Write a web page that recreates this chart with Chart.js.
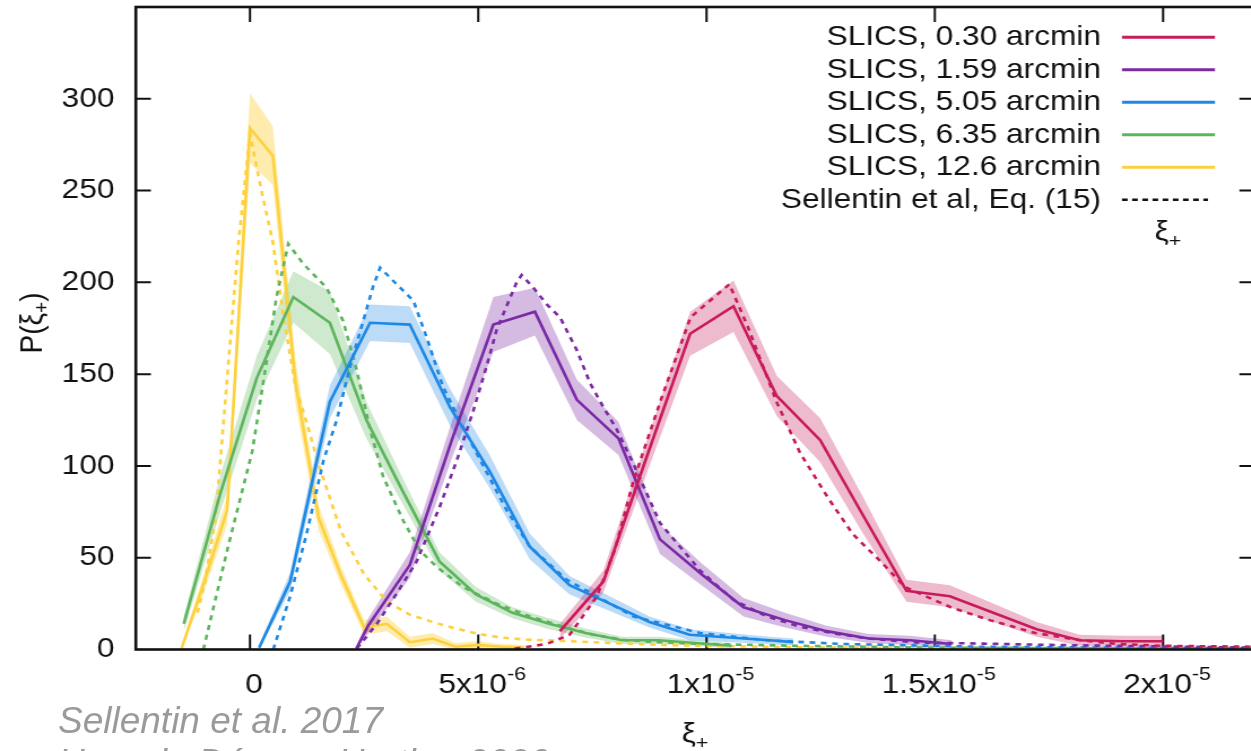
<!DOCTYPE html>
<html>
<head>
<meta charset="utf-8">
<script src="https://cdn.jsdelivr.net/npm/chart.js@4.4.1/dist/chart.umd.min.js"></script>
<style>
  html, body { margin: 0; padding: 0; background: #fff; overflow: hidden; }
  #page { position: relative; width: 1251px; height: 751px; overflow: hidden; }
  /* gnuplot output was stretched sideways; draw narrow and widen */
  #stretch { position: absolute; left: 0; top: 0; width: 1113px; height: 751px;
             transform: scaleX(1.13); transform-origin: 0 0; }
  .note { position: absolute; left: 58px; font: italic 37px "Liberation Sans", Arial, sans-serif;
          color: #9a9a9a; line-height: 37px; white-space: nowrap; }
</style>
</head>
<body>
<div id="page">
  <div id="stretch"><canvas id="plot" width="1113" height="751"></canvas></div>
  <div class="note" style="top:702px">Sellentin et al. 2017</div>
  <div class="note" style="top:744px">Harnois-Déraps, Hartlap 2020</div>
</div>
<script>
// x values are xi_+ in units of 1e-6, y is P(xi_+)
const xTickValues = [0, 5, 10, 15, 20];
const xTickBase = ['0', '5x10', '1x10', '1.5x10', '2x10'];
const xTickExp = ['', '-6', '-5', '-5', '-5'];
const yTickValues = [0, 50, 100, 150, 200, 250, 300];

const seriesNames = ['SLICS, 0.30 arcmin', 'SLICS, 1.59 arcmin', 'SLICS, 5.05 arcmin',
                     'SLICS, 6.35 arcmin', 'SLICS, 12.6 arcmin'];
const theoryName = 'Sellentin et al, Eq. (15)';

// SLICS 0.30 arcmin
const x030 = [6.79, 7.74, 8.69, 9.64, 10.59, 11.54, 12.49, 13.43, 14.38, 15.33, 16.28, 17.23, 18.17, 19.12, 20.0];
const mean030 = [10, 37, 105, 172, 187, 138, 114, 73, 32, 29, 20, 11, 5, 4.5, 4.5];
const err030 = [4, 6, 9, 12, 14, 11, 12, 10, 6, 6, 5, 4, 3, 3, 3];
const thX030 = [5.8, 6.5, 7.0, 7.6, 8.0, 8.4, 9.0, 9.65, 10.5, 10.9, 11.55, 12.05, 12.65, 13.2, 13.85, 14.35, 15.35, 16.2, 17.2, 18.2, 19.0, 20.0, 22.0];
const thY030 = [0.5, 3, 8, 29, 55, 92, 136, 181, 199, 176, 134, 107, 83, 63, 47, 34, 23, 16, 9, 5, 3, 2, 1.5];

// SLICS 1.59 arcmin
const x159 = [2.33, 2.59, 3.5, 4.42, 5.33, 6.24, 7.16, 8.07, 8.98, 9.89, 10.81, 11.72, 12.63, 13.55, 14.46, 15.37];
const mean159 = [0.5, 13, 46, 114, 177, 184, 136, 115, 60, 41, 23, 16, 10, 6, 5, 3];
const err159 = [1, 4, 7, 10, 15, 13, 11, 9, 8, 6, 5, 4, 3, 2.5, 2.5, 2];
const thX159 = [2.34, 2.78, 3.2, 3.65, 4.16, 4.53, 4.89, 5.18, 5.4, 5.84, 5.95, 6.21, 6.5, 6.79, 7.16, 7.45, 7.74, 8.03, 8.4, 8.69, 8.98, 9.35, 9.86, 10.59, 11.32, 12.05, 12.78, 13.51, 14.6, 16.06, 17.52, 20.44, 22.0];
const thY159 = [0.5, 14, 30, 48, 78, 103, 130, 154, 174, 200, 204, 197, 188, 181, 163, 145, 132, 120, 101, 85, 69, 58, 43, 27, 18, 12.4, 8.8, 6.1, 3.8, 3.2, 2.5, 1.5, 1];

// SLICS 5.05 arcmin
const x505 = [0.2, 0.88, 1.75, 2.63, 3.5, 4.38, 5.25, 6.13, 7.0, 7.88, 8.75, 9.63, 10.5, 11.38, 11.9];
const mean505 = [1, 37, 135, 178, 177, 132, 97, 56, 35, 25, 15, 8, 6.5, 5, 4];
const err505 = [1.5, 5, 9, 10, 10, 10, 9, 7, 5, 4, 3, 3, 2.5, 2, 2];
const thX505 = [0.51, 0.88, 1.24, 1.61, 1.9, 2.19, 2.48, 2.7, 2.85, 3.21, 3.58, 3.87, 4.23, 4.67, 5.11, 5.62, 6.13, 6.94, 8.4, 9.86, 11.32, 13.0, 16.0, 22.0];
const thY505 = [0, 29, 63, 103, 125, 154, 179, 198, 208, 199, 190, 170, 143, 121, 100, 76, 56, 38, 18, 9, 5, 3, 1.5, 0.5];

// SLICS 6.35 arcmin
const x635 = [-1.45, -0.65, 0.15, 0.95, 1.75, 2.55, 3.35, 4.15, 4.95, 5.75, 6.55, 7.35, 8.15, 8.95, 9.75, 10.55];
const mean635 = [14, 85, 148, 192, 178, 125, 86, 48, 30, 20, 14, 9, 5, 5, 3.5, 2];
const err635 = [4, 10, 12, 14, 17, 10, 7, 5, 4, 3, 3, 2.5, 2, 2, 1.5, 1.5];
const thX635 = [-1.02, -0.76, -0.44, 0.05, 0.3, 0.58, 0.84, 1.17, 1.68, 2.04, 2.34, 2.63, 2.92, 3.36, 3.72, 4.09, 4.67, 5.4, 6.13, 6.79, 7.52, 8.25, 8.98, 10.0, 12.0, 15.0, 22.0];
const thY635 = [0, 27, 60, 108, 147, 192, 221, 210, 197, 179, 152, 120, 94, 70, 54, 45, 34, 25, 18, 13, 8, 5, 4, 3, 2, 1, 0.5];

// SLICS 12.6 arcmin
const x126 = [-1.5, -1.0, -0.5, 0, 0.5, 1.0, 1.5, 2.0, 2.5, 3.0, 3.5, 4.0, 4.5, 5.0, 5.5, 6.0];
const mean126 = [0.5, 37, 76, 284, 269, 145, 72, 40, 12, 14, 4, 6, 1.5, 2.5, 1.5, 1];
const err126 = [1, 5, 8, 19, 16, 12, 7, 5, 4, 4, 3, 3, 2, 2, 1.5, 1.5];
const thX126 = [-1.15, -1.0, -0.75, -0.5, -0.25, 0, 0.25, 0.5, 0.75, 1.0, 1.25, 1.5, 2.0, 2.5, 3.0, 3.5, 4.0, 4.5, 5.0, 5.5, 6.0, 7.0, 8.0, 9.0, 10.0, 12.0, 15.0, 22.0];
const thY126 = [20, 35, 72, 148, 222, 281, 250, 222, 179, 143, 123, 101, 64, 41, 26, 19, 15, 11.5, 8.5, 6.5, 5.5, 4.5, 3.5, 2.5, 2, 1.2, 0.8, 0.5];

const lineColors = ['#c81b5b', '#7b2aa6', '#1e88e5', '#5cb55c', '#fdd13e'];
const bandColors = ['rgba(200,27,91,0.3)', 'rgba(123,42,166,0.32)', 'rgba(30,136,229,0.3)',
                    'rgba(92,181,92,0.3)', 'rgba(253,209,62,0.42)'];

const series = [
  [x030, mean030, err030, thX030, thY030],
  [x159, mean159, err159, thX159, thY159],
  [x505, mean505, err505, thX505, thY505],
  [x635, mean635, err635, thX635, thY635],
  [x126, mean126, err126, thX126, thY126]
];

const pts = (xs, ys) => xs.map((x, i) => ({ x: x, y: ys[i] }));

const datasets = [];
series.forEach(([xs, ys, err], i) => {
  datasets.push({ data: pts(xs, ys.map((v, j) => v + err[j])),
    borderColor: 'transparent', borderWidth: 0, pointRadius: 0, fill: false });
  datasets.push({ data: pts(xs, ys.map((v, j) => Math.max(0, v - err[j]))),
    borderColor: 'transparent', borderWidth: 0, pointRadius: 0, fill: '-1', backgroundColor: bandColors[i] });
});
series.forEach(([xs, ys, err, tx, ty], i) => {
  datasets.push({ data: pts(xs, ys), borderColor: lineColors[i], borderWidth: 2.6, pointRadius: 0, fill: false });
  datasets.push({ data: pts(tx, ty), borderColor: lineColors[i], borderWidth: 2.6,
    borderDash: [5, 5], pointRadius: 0, fill: false });
});

const ink = '#111';
const font = (px, style) => (style || '') + ' ' + px + 'px "Liberation Sans", Arial, sans-serif';

// draws text followed by a raised (dy<0) or lowered (dy>0) small part
function textWithIndex(ctx, x, y, main, small, dy, align) {
  ctx.font = font(28);
  const w1 = ctx.measureText(main).width;
  ctx.font = font(19);
  const w2 = ctx.measureText(small).width;
  let x0 = x;
  if (align === 'center') x0 = x - (w1 + w2) / 2;
  ctx.textAlign = 'left';
  ctx.font = font(28);
  ctx.fillText(main, x0, y);
  ctx.font = font(19);
  ctx.fillText(small, x0 + w1, y + dy);
}

const gnuplotFrame = {
  id: 'gnuplotFrame',
  beforeDatasetsDraw(chart) {
    const { ctx, chartArea: a, scales: { x, y } } = chart;
    ctx.save();
    ctx.strokeStyle = ink;
    ctx.lineWidth = 2;
    ctx.beginPath();
    x.ticks.forEach(t => {
      const px = x.getPixelForValue(t.value);
      ctx.moveTo(px, a.bottom); ctx.lineTo(px, a.bottom - 15);
      ctx.moveTo(px, a.top); ctx.lineTo(px, a.top + 15);
    });
    y.ticks.forEach(t => {
      if (t.value <= 0) return;
      const py = y.getPixelForValue(t.value);
      ctx.moveTo(a.left, py); ctx.lineTo(a.left + 13.3, py);
      ctx.moveTo(a.right, py); ctx.lineTo(a.right - 13.3, py);
    });
    ctx.stroke();
    ctx.restore();
  },
  afterDatasetsDraw(chart) {
    const { ctx, chartArea: a } = chart;
    ctx.save();
    ctx.strokeStyle = ink;
    ctx.lineWidth = 2.6;
    ctx.strokeRect(a.left, a.top, a.right - a.left, a.bottom - a.top);
    ctx.restore();
  },
  afterDraw(chart) {
    const { ctx, chartArea: a, scales: { x, y } } = chart;
    ctx.save();
    ctx.fillStyle = ink;

    // y tick labels
    ctx.font = font(28);
    ctx.textAlign = 'right';
    ctx.textBaseline = 'middle';
    y.ticks.forEach(t => ctx.fillText(String(t.value), 101.3, y.getPixelForValue(t.value)));

    // x tick labels with exponent
    ctx.textBaseline = 'alphabetic';
    x.ticks.forEach((t, i) => {
      textWithIndex(ctx, x.getPixelForValue(t.value) + 3.5, 693, xTickBase[i], xTickExp[i], -13, 'center');
    });

    // axis titles
    const cx = (a.left + a.right) / 2;
    textWithIndex(ctx, cx, 742, '\u03BE', '+', 7, 'center');
    textWithIndex(ctx, 1033.6, 240, '\u03BE', '+', 7, 'center');

    ctx.save();
    ctx.translate(36.9, 323);
    ctx.rotate(-Math.PI / 2);
    ctx.font = font(28);
    const wA = ctx.measureText('P(\u03BE').width;
    const wC = ctx.measureText(')').width;
    ctx.font = font(19);
    const wB = ctx.measureText('+').width;
    let sx = -(wA + wB + wC) / 2;
    ctx.font = font(28);
    ctx.fillText('P(\u03BE', sx, 0);
    ctx.font = font(19);
    ctx.fillText('+', sx + wA, 6);
    ctx.font = font(28);
    ctx.fillText(')', sx + wA + wB, 0);
    ctx.restore();

    // key, gnuplot style: text right-aligned, sample to the right
    ctx.font = font(28);
    ctx.textAlign = 'right';
    ctx.textBaseline = 'middle';
    const rowY = i => 37.3 + 32.5 * i;
    seriesNames.forEach((name, i) => {
      ctx.fillStyle = ink;
      ctx.fillText(name, 974.3, rowY(i));
      ctx.strokeStyle = lineColors[i];
      ctx.lineWidth = 3;
      ctx.beginPath();
      ctx.moveTo(992.9, rowY(i)); ctx.lineTo(1075.2, rowY(i));
      ctx.stroke();
    });
    ctx.fillStyle = ink;
    ctx.fillText(theoryName, 974.3, rowY(5));
    ctx.strokeStyle = ink;
    ctx.lineWidth = 2.4;
    ctx.setLineDash([5, 4]);
    ctx.beginPath();
    ctx.moveTo(992.9, rowY(5)); ctx.lineTo(1069, rowY(5));
    ctx.stroke();
    ctx.restore();
  }
};

new Chart(document.getElementById('plot'), {
  type: 'line',
  data: { datasets: datasets },
  options: {
    responsive: false,
    animation: false,
    events: [],
    layout: { padding: { top: 7, right: 2.9, left: 0, bottom: 0 } },
    elements: { line: { tension: 0 } },
    plugins: {
      legend: { display: false },
      tooltip: { enabled: false },
      filler: { drawTime: 'beforeDatasetsDraw' }
    },
    scales: {
      x: {
        type: 'linear', min: -2.5, max: 22,
        afterBuildTicks: s => { s.ticks = xTickValues.map(v => ({ value: v })); },
        afterFit: s => { s.height = 101.5; },
        ticks: { display: false },
        grid: { display: false },
        border: { display: false }
      },
      y: {
        type: 'linear', min: 0, max: 350,
        afterBuildTicks: s => { s.ticks = yTickValues.map(v => ({ value: v })); },
        afterFit: s => { s.width = 120.2; },
        ticks: { display: false },
        grid: { display: false },
        border: { display: false }
      }
    }
  },
  plugins: [gnuplotFrame]
});
</script>
</body>
</html>
